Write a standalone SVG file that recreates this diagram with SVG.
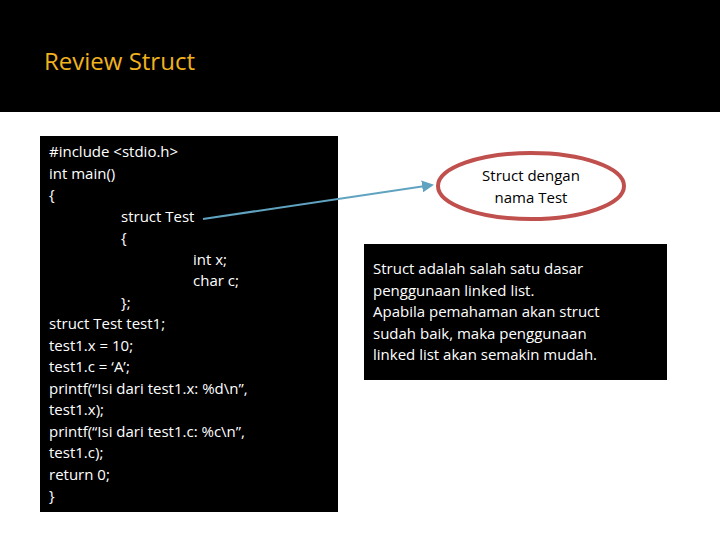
<svg xmlns="http://www.w3.org/2000/svg" width="720" height="540" viewBox="0 0 720 540">
<style>
.c{font-family:"Open Sans","Liberation Sans",sans-serif;font-size:15px;fill:#fff}
.e{font-family:"Open Sans","Liberation Sans",sans-serif;font-size:15px;fill:#000;text-anchor:middle}
</style>
<defs><marker id="a" markerWidth="6" markerHeight="6" refX="5" refY="3" orient="auto" markerUnits="strokeWidth"><path d="M0,0L6,3L0,6z" fill="#5fa3c0"/></marker></defs>
<rect width="720" height="540" fill="#fff"/>
<rect width="720" height="112" fill="#000"/>
<text x="44" y="70" font-family="'Open Sans','Liberation Sans',sans-serif" font-size="24" fill="#f0b21e">Review Struct</text>
<g id="code">
<rect x="40" y="136" width="298" height="376" fill="#000"/>
<text class="c" x="49" y="157">#include &lt;stdio.h&gt;</text>
<text class="c" x="49" y="179">int main()</text>
<text class="c" x="49" y="200">{</text>
<text class="c" x="121" y="222">struct Test</text>
<text class="c" x="121" y="243">{</text>
<text class="c" x="193" y="265">int x;</text>
<text class="c" x="193" y="286">char c;</text>
<text class="c" x="121" y="308">};</text>
<text class="c" x="49" y="329">struct Test test1;</text>
<text class="c" x="49" y="351">test1.x = 10;</text>
<text class="c" x="49" y="372">test1.c = ‘A’;</text>
<text class="c" x="49" y="394">printf(“Isi dari test1.x: %d\n”,</text>
<text class="c" x="49" y="415">test1.x);</text>
<text class="c" x="49" y="437">printf(“Isi dari test1.c: %c\n”,</text>
<text class="c" x="49" y="458">test1.c);</text>
<text class="c" x="49" y="480">return 0;</text>
<text class="c" x="49" y="501">}</text>
</g>
<g id="connectors"><line x1="203" y1="219" x2="432" y2="185" stroke="#5fa3c0" stroke-width="2" marker-end="url(#a)"/></g>
<g id="ellipse">
<ellipse cx="531" cy="186" rx="93" ry="33" fill="#fff" stroke="#c0504d" stroke-width="4"/>
<text class="e" x="531" y="181">Struct dengan</text>
<text class="e" x="531" y="203">nama Test</text>
</g>
<g id="desc">
<rect x="364" y="244" width="303" height="136" fill="#000"/>
<text class="c" x="373" y="274">Struct adalah salah satu dasar</text>
<text class="c" x="373" y="296">penggunaan linked list.</text>
<text class="c" x="373" y="317">Apabila pemahaman akan struct</text>
<text class="c" x="373" y="339">sudah baik, maka penggunaan</text>
<text class="c" x="373" y="360">linked list akan semakin mudah.</text>
</g>
</svg>
